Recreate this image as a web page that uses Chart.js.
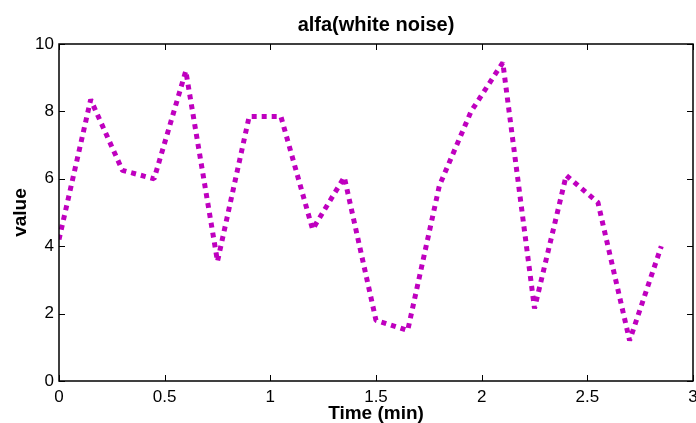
<!DOCTYPE html>
<html>
<head>
<meta charset="utf-8">
<script src="https://cdn.jsdelivr.net/npm/chart.js@4/dist/chart.umd.min.js"></script>
<style>
  html, body { margin: 0; padding: 0; background: #fff; }
  #wrap { width: 696px; height: 423px; position: relative; }
</style>
</head>
<body>
<div id="wrap"><canvas id="c" width="696" height="423"></canvas></div>
<script>
// ---- data ----
const timeMin = [0, 0.15, 0.3, 0.45, 0.6, 0.75, 0.9, 1.05, 1.2, 1.35, 1.5, 1.65, 1.8, 1.95, 2.1, 2.25, 2.4, 2.55, 2.7, 2.85];
const alfaValues = [4.2, 8.35, 6.25, 6.0, 9.2, 3.55, 7.85, 7.85, 4.5, 6.05, 1.8, 1.5, 5.8, 8.0, 9.45, 2.15, 6.1, 5.3, 1.2, 4.0];
const xTicks = [0, 0.5, 1, 1.5, 2, 2.5, 3];
const yTicks = [0, 2, 4, 6, 8, 10];
const chartTitle = 'alfa(white noise)';
const xLabel = 'Time (min)';
const yLabel = 'value';

const FONT = '"Liberation Sans", Arial, Helvetica, sans-serif';

const boxPlugin = {
  id: 'boxPlugin',
  afterDatasetsDraw(chart) {
    const {ctx, chartArea: a, scales: {x, y}} = chart;
    ctx.save();
    ctx.strokeStyle = '#000';
    ctx.lineWidth = 1.5;
    ctx.strokeRect(a.left, a.top, a.right - a.left, a.bottom - a.top);
    ctx.lineWidth = 1;
    const tl = 6;
    ctx.beginPath();
    xTicks.forEach(v => {
      const px = Math.round(x.getPixelForValue(v)) + 0.5;
      ctx.moveTo(px, a.bottom); ctx.lineTo(px, a.bottom - tl);
      ctx.moveTo(px, a.top); ctx.lineTo(px, a.top + tl);
    });
    yTicks.forEach(v => {
      const py = Math.round(y.getPixelForValue(v)) + 0.5;
      ctx.moveTo(a.left, py); ctx.lineTo(a.left + tl, py);
      ctx.moveTo(a.right, py); ctx.lineTo(a.right - tl, py);
    });
    ctx.stroke();
    ctx.restore();
  }
};

new Chart(document.getElementById('c'), {
  type: 'line',
  data: {
    datasets: [{
      data: timeMin.map((t, i) => ({x: t, y: alfaValues[i]})),
      borderColor: '#bf00bf',
      borderWidth: 5,
      borderDash: [5, 5],
      borderCapStyle: 'butt',
      borderJoinStyle: 'bevel',
      pointRadius: 0,
      tension: 0,
      fill: false
    }]
  },
  options: {
    responsive: false,
    animation: false,
    layout: { padding: { left: 0, right: 3, top: 0, bottom: 0 } },
    plugins: {
      legend: { display: false },
      tooltip: { enabled: false },
      title: {
        display: true,
        text: chartTitle,
        fullSize: false,
        color: '#000',
        font: { family: FONT, size: 20, weight: 'bold', lineHeight: 1.2 },
        padding: { top: 13, bottom: 7 }
      }
    },
    scales: {
      x: {
        type: 'linear',
        min: 0, max: 3,
        afterFit(s) { s.height = 42; s.paddingLeft = 0; s.paddingRight = 0; },
        afterBuildTicks(s) { s.ticks = xTicks.map(v => ({value: v})); },
        grid: { display: false, drawTicks: false },
        border: { display: false },
        ticks: {
          color: '#000',
          font: { family: FONT, size: 17 },
          padding: 6,
          maxRotation: 0,
          autoSkip: false,
          callback: v => String(v)
        },
        title: {
          display: true,
          text: xLabel,
          color: '#000',
          font: { family: FONT, size: 19, weight: 'bold', lineHeight: 1 },
          padding: { top: 0, bottom: 0 }
        }
      },
      y: {
        type: 'linear',
        min: 0, max: 10,
        afterFit(s) { s.width = 59; s.paddingTop = 0; s.paddingBottom = 0; },
        afterBuildTicks(s) { s.ticks = yTicks.map(v => ({value: v})); },
        grid: { display: false, drawTicks: false },
        border: { display: false },
        ticks: {
          color: '#000',
          font: { family: FONT, size: 17 },
          padding: 5,
          autoSkip: false,
          callback: v => String(v)
        },
        title: {
          display: true,
          text: yLabel,
          color: '#000',
          font: { family: FONT, size: 19, weight: 'bold', lineHeight: 1.2 },
          padding: { top: 9, bottom: 0 }
        }
      }
    }
  },
  plugins: [boxPlugin]
});
</script>
</body>
</html>
